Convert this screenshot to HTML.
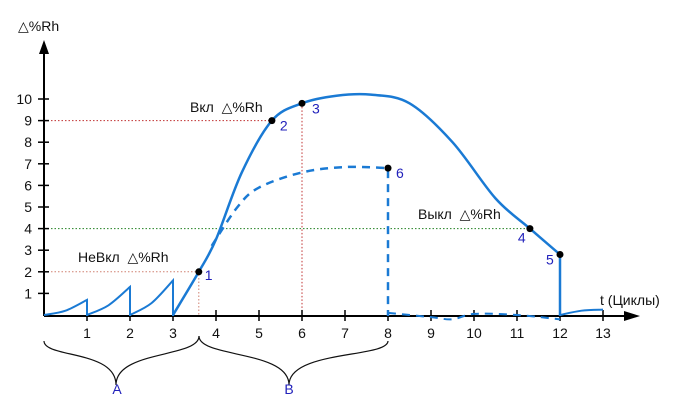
<!DOCTYPE html>
<html><head><meta charset="utf-8"><style>
body{margin:0;background:#fff;}
svg{display:block;font-family:"Liberation Sans",Arial,sans-serif;}
text{white-space:pre;}
</style></head><body>
<svg id="c" width="700" height="414"></svg>
<script>
const xTicks=[1,2,3,4,5,6,7,8,9,10,11,12,13];
const yTicks=[1,2,3,4,5,6,7,8,9,10];
const saw1T=[0,0.5,1], saw1V=[0,0.2,0.7];
const saw2T=[1,1.5,2], saw2V=[0,0.45,1.3];
const saw3T=[2,2.5,3], saw3V=[0,0.55,1.6];
const mainT=[3,3.6,4,4.6,5.3,6,6.8,7.6,8.5,9.5,10.5,11.3,12];
const mainV=[0,2,3.5,6.6,9,9.8,10.15,10.2,9.8,8,5.4,4,2.8];
const tailT=[12,12.5,13], tailV=[0,0.2,0.25];
const dashT=[3.9,4.5,5,6,7,8], dashV=[3.2,5,5.9,6.6,6.85,6.8];
const dash2T=[8,9,9.5,10,11,12], dash2V=[0.1,-0.1,-0.2,0.05,0,-0.2];
const pts=[{t:3.6,v:2,l:"1",dx:6,dy:8},{t:5.3,v:9,l:"2",dx:8,dy:10},{t:6,v:9.8,l:"3",dx:10,dy:10},{t:11.3,v:4,l:"4",dx:-12,dy:14},{t:12,v:2.8,l:"5",dx:-14,dy:10},{t:8,v:6.8,l:"6",dx:8,dy:10}];
const X=t=>44+43*t, Y=v=>315-21.6*v;
const svg=document.getElementById('c');const NS="http://www.w3.org/2000/svg";
function mk(tag,a,name,p){const e=document.createElementNS(NS,tag);for(const k in a)e.setAttribute(k,a[k]);


(p||svg).appendChild(e);return e;}
function txt(x,y,s,name,fill,size,anchor){const e=mk('text',{x:x,y:y,fill:fill||'#111','font-size':size||14,'text-anchor':anchor||'start'},name);e.textContent=s;return e;}
function smooth(T,V){const p=T.map((t,i)=>[X(t),Y(V[i])]);let d="M"+p[0];for(let i=0;i<p.length-1;i++){const a=p[Math.max(0,i-1)],b=p[i],c=p[i+1],e=p[Math.min(p.length-1,i+2)];
d+=" C"+(b[0]+(c[0]-a[0])/6)+","+(b[1]+(c[1]-a[1])/6)+" "+(c[0]-(e[0]-b[0])/6)+","+(c[1]-(e[1]-b[1])/6)+" "+c[0]+","+c[1];}return d;}
mk('path',{d:`M44,${Y(9)}H${X(5.3)}M${X(6)},${Y(9.8)}V316`,stroke:'#c03030','stroke-dasharray':'1.5,2',fill:'none'},'guide-on');
mk('path',{d:`M44,${Y(2)}H${X(3.6)}V316`,stroke:'#d08070','stroke-dasharray':'1.5,2',fill:'none'},'guide-not-on');
mk('path',{d:`M44,${Y(4)}H${X(11.3)}`,stroke:'#208020','stroke-dasharray':'1.5,2',fill:'none'},'guide-off');
mk('line',{x1:44,y1:316,x2:628,y2:316,stroke:'#000','stroke-width':2},'x-axis');
mk('polygon',{points:'640,316 624,311 624,321',fill:'#000'},'x-axis-arrow');
mk('line',{x1:44,y1:316,x2:44,y2:52,stroke:'#000','stroke-width':2},'y-axis');
mk('polygon',{points:'44,40 39,54 49,54',fill:'#000'},'y-axis-arrow');
xTicks.forEach(t=>{mk('line',{x1:X(t),y1:310,x2:X(t),y2:321,stroke:'#000','stroke-width':1.5},'x-tick');txt(X(t),338,String(t),'x-tick-label','#111',14,'middle');});
yTicks.forEach(v=>{mk('line',{x1:38,y1:Y(v),x2:49,y2:Y(v),stroke:'#000','stroke-width':1.5},'y-tick');txt(32,Y(v)+5,String(v),'y-tick-label','#111',14,'end');});
txt(18,31,'△%Rh','y-axis-title','#111',14);
txt(600,305,'t (Циклы)','x-axis-title','#111',14);
const blue='#1a7ad4';
[[saw1T,saw1V],[saw2T,saw2V],[saw3T,saw3V]].forEach((s,i)=>{mk('path',{d:smooth(s[0],s[1])+` L${X(s[0][2])},316`,stroke:blue,'stroke-width':2,fill:'none'},'sawtooth-'+(i+1));});
mk('path',{d:smooth(mainT,mainV)+` L${X(12)},316`,stroke:blue,'stroke-width':2.5,fill:'none'},'main-curve');
mk('path',{d:smooth(tailT,tailV),stroke:blue,'stroke-width':2,fill:'none'},'tail-curve');
mk('path',{d:smooth(dashT,dashV)+` L${X(8)},316`,stroke:blue,'stroke-width':2.5,fill:'none','stroke-dasharray':'8,6'},'dashed-curve');
mk('path',{d:smooth(dash2T,dash2V),stroke:blue,'stroke-width':2,fill:'none','stroke-dasharray':'8,6'},'dashed-baseline');
pts.forEach(p=>{mk('circle',{cx:X(p.t),cy:Y(p.v),r:3.5,fill:'#000'},'point-'+p.l);txt(X(p.t)+p.dx,Y(p.v)+p.dy,p.l,'point-label-'+p.l,'#2222bb',14);});
txt(190,112,'Вкл  △%Rh','label-on','#111',14);
txt(78,262,'НеВкл  △%Rh','label-not-on','#111',14);
txt(418,219,'Выкл  △%Rh','label-off','#111',14);
mk('path',{d:'M44,341 C44,358 116,350 116,385 C116,350 199,358 199,336',stroke:'#111','stroke-width':1.2,fill:'none'},'brace-a');
mk('path',{d:'M199,336 C199,358 289,350 289,385 C289,350 388,358 388,341',stroke:'#111','stroke-width':1.2,fill:'none'},'brace-b');
txt(117,394,'A','label-a','#2222bb',14,'middle');
txt(289,394,'B','label-b','#2222bb',14,'middle');
</script></body></html>
